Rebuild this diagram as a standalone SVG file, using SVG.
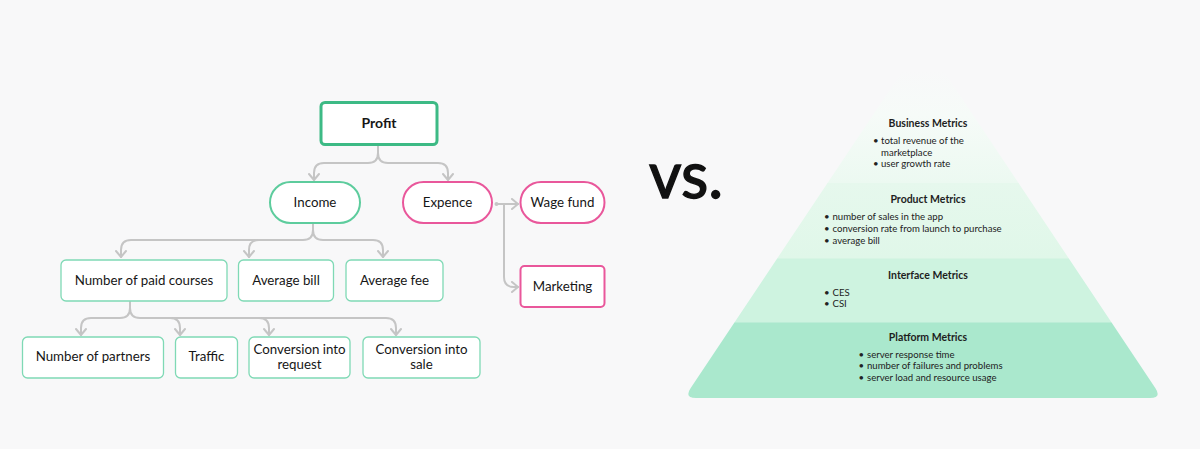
<svg xmlns="http://www.w3.org/2000/svg" width="1200" height="449" viewBox="0 0 1200 449">
<defs>
<style>
.t{font-family:Lato,"Liberation Sans",sans-serif;fill:#161616;font-size:13.3px;text-anchor:middle}
.b{font-weight:bold;font-size:14px}
.box{fill:#fff;stroke:#7fd9b5;stroke-width:1.3}
.pink{fill:#fff;stroke:#e9579b;stroke-width:2}
.inc{fill:#fff;stroke:#5dcc9d;stroke-width:2}
.con{fill:none;stroke:#c5c5c5;stroke-width:2;stroke-linecap:round}
.h{font-family:Lato,"Liberation Sans",sans-serif;font-weight:bold;font-size:10.5px;fill:#1e1e1e;text-anchor:middle}
.l{font-family:Lato,"Liberation Sans",sans-serif;font-size:9.6px;fill:#222}
</style>
<marker id="ar" viewBox="-8 -6 10 12" markerWidth="10" markerHeight="12" refX="0" refY="0" orient="auto" markerUnits="userSpaceOnUse">
<path d="M-6,-5 L0,0 L-6,5" fill="none" stroke="#c5c5c5" stroke-width="2" stroke-linecap="round" stroke-linejoin="round"/>
</marker>
<clipPath id="pyr">
<path d="M923,40 L690.7,388 Q684,398 696,398 L1150,398 Q1162,398 1155.3,388 Z"/>
</clipPath>
<linearGradient id="gtop" x1="0" y1="70" x2="0" y2="183" gradientUnits="userSpaceOnUse">
<stop offset="0" stop-color="#f8f8f9"/>
<stop offset="0.4" stop-color="#f6fbf8"/>
<stop offset="1" stop-color="#ecf9f1"/>
</linearGradient>
<linearGradient id="gprod" x1="0" y1="183" x2="0" y2="258" gradientUnits="userSpaceOnUse">
<stop offset="0" stop-color="#e6f8ed"/>
<stop offset="1" stop-color="#e0f7e9"/>
</linearGradient>
</defs>
<rect width="1200" height="449" fill="#f8f8f9"/>

<g id="connectors">
<path class="con" d="M378,146 V153 Q378,163 368,163 H324 Q314,163 314,173 V180" marker-end="url(#ar)"/>
<path class="con" d="M378,153 Q378,163 388,163 H438 Q448,163 448,173 V180" marker-end="url(#ar)"/>
<path class="con" d="M313,224 V230 Q313,240 303,240 H131 Q121,240 121,250 V257" marker-end="url(#ar)"/>
<path class="con" d="M259,240 Q249,240 249,250 V257" marker-end="url(#ar)"/>
<path class="con" d="M313,230 Q313,240 323,240 H373 Q383,240 383,250 V257" marker-end="url(#ar)"/>
<path class="con" d="M130,302 V308 Q130,318 120,318 H91 Q81,318 81,328 V335" marker-end="url(#ar)"/>
<path class="con" d="M130,308 Q130,318 140,318 H386 Q396,318 396,328 V335" marker-end="url(#ar)"/>
<path class="con" d="M170,318 Q180,318 180,328 V335" marker-end="url(#ar)"/>
<path class="con" d="M259,318 Q269,318 269,328 V335" marker-end="url(#ar)"/>
<path class="con" d="M497,204 H518" marker-end="url(#ar)"/>
<path class="con" d="M504,205 V277 Q504,287 514,287 H518" marker-end="url(#ar)"/>
<circle cx="496.5" cy="204" r="2" fill="#c5c5c5"/>
</g>

<g id="profit">
<rect x="321" y="102.5" width="116" height="42" rx="4" fill="#fff" stroke="#3dba85" stroke-width="3"/>
<text class="t b" x="379" y="128">Profit</text>
</g>
<g id="income">
<rect class="inc" x="270" y="182" width="90" height="41" rx="20.5"/>
<text class="t" x="315" y="207">Income</text>
</g>
<g id="expence">
<rect class="pink" x="403" y="182" width="89" height="41" rx="20.5"/>
<text class="t" x="447.5" y="207">Expence</text>
</g>
<g id="wage-fund">
<rect class="pink" x="520.5" y="182" width="84" height="41" rx="20.5"/>
<text class="t" x="562.5" y="207">Wage fund</text>
</g>
<g id="marketing">
<rect class="pink" x="520.5" y="266" width="84" height="41" rx="4"/>
<text class="t" x="562.5" y="291">Marketing</text>
</g>
<g id="paid-courses">
<rect class="box" x="61" y="260" width="166" height="41" rx="5"/>
<text class="t" x="144" y="285">Number of paid courses</text>
</g>
<g id="average-bill">
<rect class="box" x="238.5" y="260" width="95" height="41" rx="5"/>
<text class="t" x="286" y="285">Average bill</text>
</g>
<g id="average-fee">
<rect class="box" x="346" y="260" width="97" height="41" rx="5"/>
<text class="t" x="394.5" y="285">Average fee</text>
</g>
<g id="partners">
<rect class="box" x="22.5" y="337" width="141" height="41" rx="5"/>
<text class="t" x="93" y="361">Number of partners</text>
</g>
<g id="traffic">
<rect class="box" x="175.5" y="337" width="62" height="41" rx="5"/>
<text class="t" x="206.5" y="361">Traffic</text>
</g>
<g id="conv-request">
<rect class="box" x="249" y="337" width="101" height="41" rx="5"/>
<text class="t" x="299.5" y="354">Conversion into</text>
<text class="t" x="299.5" y="369">request</text>
</g>
<g id="conv-sale">
<rect class="box" x="363" y="337" width="117" height="41" rx="5"/>
<text class="t" x="421.5" y="354">Conversion into</text>
<text class="t" x="421.5" y="369">sale</text>
</g>

<g id="vs">
<text x="649" y="198" font-family="Lato,'Liberation Sans',sans-serif" font-size="63" font-weight="normal" fill="#111" stroke="#111" stroke-width="1.4">vs.</text>
</g>

<g id="pyramid">
<g clip-path="url(#pyr)">
<rect x="600" y="0" width="600" height="184" fill="url(#gtop)"/>
<rect x="600" y="183" width="600" height="76" fill="url(#gprod)"/>
<rect x="600" y="258.5" width="600" height="64.5" fill="#cef3e0"/>
<rect x="600" y="322.5" width="600" height="80" fill="#aae8cd"/>
</g>
</g>
<g id="business">
<text class="h" x="928" y="127">Business Metrics</text>
<text class="l" x="873" y="143.5">•</text><text class="l" x="881" y="143.5">total revenue of the</text>
<text class="l" x="881" y="155.5">marketplace</text>
<text class="l" x="873" y="167">•</text><text class="l" x="881" y="167">user growth rate</text>
</g>
<g id="product">
<text class="h" x="928" y="203">Product Metrics</text>
<text class="l" x="824" y="220">•</text><text class="l" x="832.5" y="220">number of sales in the app</text>
<text class="l" x="824" y="232">•</text><text class="l" x="832.5" y="232">conversion rate from launch to purchase</text>
<text class="l" x="824" y="244">•</text><text class="l" x="832.5" y="244">average bill</text>
</g>
<g id="interface">
<text class="h" x="928" y="279">Interface Metrics</text>
<text class="l" x="824" y="296">•</text><text class="l" x="832.5" y="296">CES</text>
<text class="l" x="824" y="307">•</text><text class="l" x="832.5" y="307">CSI</text>
</g>
<g id="platform">
<text class="h" x="928" y="341">Platform Metrics</text>
<text class="l" x="858.5" y="358">•</text><text class="l" x="867" y="358">server response time</text>
<text class="l" x="858.5" y="369">•</text><text class="l" x="867" y="369">number of failures and problems</text>
<text class="l" x="858.5" y="380.5">•</text><text class="l" x="867" y="380.5">server load and resource usage</text>
</g>
</svg>
